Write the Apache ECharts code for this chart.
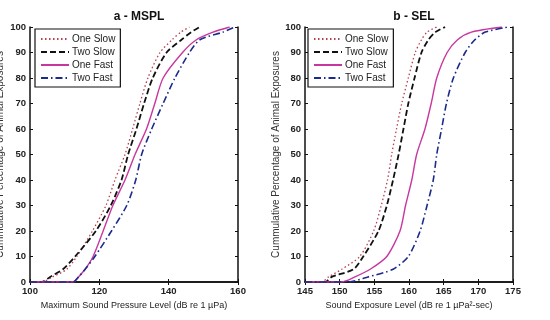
<!DOCTYPE html>
<html>
<head>
<meta charset="utf-8">
<script src="https://cdn.jsdelivr.net/npm/echarts@6/dist/echarts.min.js"></script>
<style>
html, body { margin: 0; padding: 0; background: #fff; }
#chart { width: 550px; height: 320px; }
</style>
</head>
<body>
<div id="chart"></div>
<script>
// cumulative percentage levels shared by every curve
var levels = [0, 0, 2, 5, 10, 20, 30, 40, 50, 60, 70, 80, 90, 95, 98, 100];
var seriesNames = ['One Slow', 'Two Slow', 'One Fast', 'Two Fast'];

// a - MSPL, dB re 1 uPa at each level
var msplOneSlow = [100, 103.5, 106.5, 110.6, 113.5, 118, 121.9, 124.5, 127.4, 129.6, 131.7, 134, 137.5, 141, 143.5, 146];
var msplTwoSlow = [100, 103.4, 105.8, 109.5, 113, 119, 123.3, 126.4, 128.3, 130.7, 132.9, 135.4, 139.4, 143.7, 146.5, 149];
var msplOneFast = [100, 112.5, 114, 115.9, 118.2, 121.1, 123.9, 127.4, 130.3, 133.6, 136, 138.4, 144, 148, 152.8, 157.6];
var msplTwoFast = [100, 112.4, 114, 115.9, 118.7, 123.5, 127.9, 130.5, 132.2, 135.1, 138.4, 141.8, 146, 149, 155.7, 159];

// b - SEL, dB re 1 uPa^2-sec at each level
var selOneSlow = [145, 147.4, 148.4, 150.3, 152.9, 154.9, 156, 156.9, 157.5, 158.2, 158.95, 159.9, 160.9, 161.8, 162.6, 164];
var selTwoSlow = [145, 147.9, 148.85, 152, 153.4, 155.6, 156.8, 157.7, 158.5, 159.2, 159.9, 160.8, 161.8, 162.8, 163.8, 165.2];
var selOneFast = [145, 150.3, 152.2, 154.4, 156.8, 158.7, 159.5, 160.4, 161.1, 162.3, 163.2, 164, 165.5, 167, 169, 173.4];
var selTwoFast = [145, 151.3, 154.1, 157.7, 159.9, 161.6, 162.6, 163.5, 164, 164.7, 165.4, 166.4, 168.1, 169.5, 171, 174.3];

var lineStyles = [
	{ color: '#b5414f', type: [1.5, 2.5], width: 1.3 },
	{ color: '#111111', type: [6, 3], width: 1.8 },
	{ color: '#c8379e', type: 'solid', width: 1.4 },
	{ color: '#1c2a8c', type: [7, 3, 1.5, 3], width: 1.6 }
];

function pairs(xs) {
	return xs.map(function (x, i) { return [x, levels[i]]; });
}

var font = 'Liberation Sans, Arial, sans-serif';

function mainX(idx, min, max, step, name) {
	return {
		gridIndex: idx, type: 'value', min: min, max: max, interval: step,
		name: name, nameLocation: 'middle', nameGap: 17,
		nameTextStyle: { fontFamily: font, fontSize: 9, color: '#222' },
		axisLine: { lineStyle: { color: '#111', width: 1.5 } },
		axisTick: { inside: true, length: 3, lineStyle: { color: '#111' } },
		axisLabel: { fontFamily: font, fontSize: 9.5, fontWeight: 'bold', color: '#222', margin: 4 },
		splitLine: { show: false }
	};
}
function mirrorX(idx, min, max, step) {
	return {
		gridIndex: idx, type: 'value', position: 'top', min: min, max: max, interval: step,
		axisLine: { lineStyle: { color: '#111', width: 1.5 } },
		axisTick: { inside: true, length: 3, lineStyle: { color: '#111' } },
		axisLabel: { show: false }, splitLine: { show: false }
	};
}
function mainY(idx, gap) {
	return {
		gridIndex: idx, type: 'value', min: 0, max: 100, interval: 10,
		name: 'Cummulative Percentage of Animal Exposures', nameLocation: 'middle', nameGap: gap,
		nameTextStyle: { fontFamily: font, fontSize: 10, color: '#333' },
		axisLine: { lineStyle: { color: '#111', width: 1.5 } },
		axisTick: { inside: true, length: 3, lineStyle: { color: '#111' } },
		axisLabel: { fontFamily: font, fontSize: 9.5, fontWeight: 'bold', color: '#222', margin: 4 },
		splitLine: { show: false }
	};
}
function mirrorY(idx) {
	return {
		gridIndex: idx, type: 'value', position: 'right', min: 0, max: 100, interval: 10,
		axisLine: { lineStyle: { color: '#111', width: 1.5 } },
		axisTick: { inside: true, length: 3, lineStyle: { color: '#111' } },
		axisLabel: { show: false }, splitLine: { show: false }
	};
}

function legendAt(left) {
	return {
		left: left, top: 29, orient: 'vertical',
		backgroundColor: '#fff', borderColor: '#111', borderWidth: 1.2, borderRadius: 0,
		padding: [5, 5, 4, 5], itemGap: 3, itemWidth: 28, itemHeight: 10,
		itemStyle: { opacity: 0, borderWidth: 0 },
		textStyle: { fontFamily: font, fontSize: 10, color: '#222', padding: [0, 0, 0, -2] },
		data: seriesNames
	};
}

var panels = [
	[msplOneSlow, msplTwoSlow, msplOneFast, msplTwoFast],
	[selOneSlow, selTwoSlow, selOneFast, selTwoFast]
];
var series = [];
panels.forEach(function (panel, g) {
	panel.forEach(function (xs, i) {
		series.push({
			name: seriesNames[i], type: 'line',
			xAxisIndex: g * 2, yAxisIndex: g * 2,
			symbol: 'none', smooth: 0.25, silent: true,
			lineStyle: lineStyles[i], itemStyle: { color: lineStyles[i].color },
			data: pairs(xs)
		});
	});
});

var chart = echarts.init(document.getElementById('chart'));
chart.setOption({
	backgroundColor: '#fff',
	animation: false,
	title: [
		{ text: 'a - MSPL', left: 134, top: 6, textAlign: 'center',
			textStyle: { fontFamily: font, fontSize: 12, fontWeight: 'bold', color: '#111' } },
		{ text: 'b - SEL', left: 409, top: 6, textAlign: 'center',
			textStyle: { fontFamily: font, fontSize: 12, fontWeight: 'bold', color: '#111' } }
	],
	grid: [
		{ left: 30, right: 312, top: 27, bottom: 38, outerBoundsMode: 'none' },
		{ left: 305, right: 37, top: 27, bottom: 38, outerBoundsMode: 'none' }
	],
	legend: [legendAt(35), legendAt(308)],
	xAxis: [
		mainX(0, 100, 160, 20, 'Maximum Sound Pressure Level (dB re 1 \u00b5Pa)'),
		mirrorX(0, 100, 160, 20),
		mainX(1, 145, 175, 5, 'Sound Exposure Level (dB re 1 \u00b5Pa\u00b2-sec)'),
		mirrorX(1, 145, 175, 5)
	],
	yAxis: [mainY(0, 25), mirrorY(0), mainY(1, 18), mirrorY(1)],
	series: series
});
</script>
</body>
</html>
